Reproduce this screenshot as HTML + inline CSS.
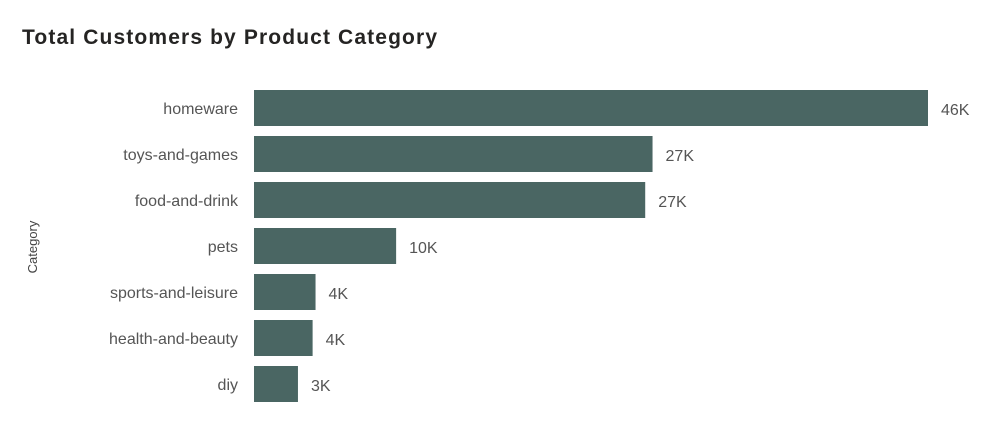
<!DOCTYPE html>
<html><head><meta charset="utf-8"><style>
body{margin:0;background:#fff;width:994px;height:426px;overflow:hidden;font-family:"Liberation Sans","DejaVu Sans",sans-serif}
</style></head><body>
<svg width="994" height="426">
<text x="22" y="44" font-size="21" font-weight="bold" fill="#252423" textLength="415">Total Customers by Product Category</text>
<text transform="translate(37,247) rotate(-90)" text-anchor="middle" font-size="13" fill="#444">Category</text>
<g id="bars"></g>
</svg>
<script>
const categories=["homeware","toys-and-games","food-and-drink","pets","sports-and-leisure","health-and-beauty","diy"];
const values=[46,27.2,26.7,9.7,4.2,4.0,3.0];
const labels=["46K","27K","27K","10K","4K","4K","3K"];
const x0=254, pxPerK=674/46;
const xs=v=>x0+v*pxPerK;
const ys=i=>90+i*46;
const g=document.getElementById('bars');
const NS='http://www.w3.org/2000/svg';
categories.forEach((c,i)=>{
 const r=document.createElementNS(NS,'rect');
 r.setAttribute('x',x0);r.setAttribute('y',ys(i));r.setAttribute('width',xs(values[i])-x0);r.setAttribute('height',36);r.setAttribute('fill','#4a6663');
 
 
 g.appendChild(r);
 const t=document.createElementNS(NS,'text');
 t.setAttribute('x',238);t.setAttribute('y',ys(i)+24);t.setAttribute('text-anchor','end');t.setAttribute('font-size','16');t.setAttribute('fill','#555');
 t.textContent=c;
 
 
 g.appendChild(t);
 const v=document.createElementNS(NS,'text');
 v.setAttribute('x',xs(values[i])+13);v.setAttribute('y',ys(i)+25);v.setAttribute('font-size','16');v.setAttribute('fill','#555');
 v.textContent=labels[i];
 
 
 g.appendChild(v);
});
</script>
</body></html>
